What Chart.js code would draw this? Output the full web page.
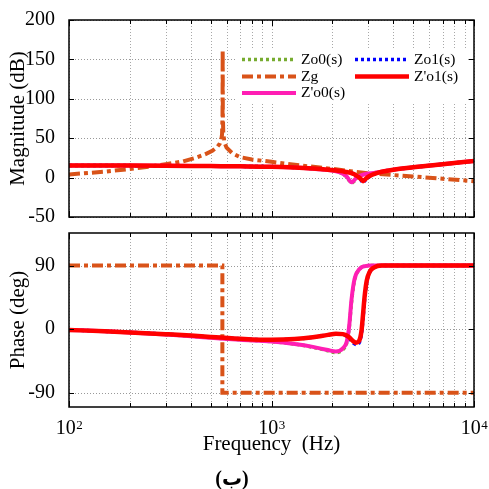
<!DOCTYPE html>
<html>
<head>
<meta charset="utf-8">
<script src="https://cdn.jsdelivr.net/npm/chart.js@4.4.1/dist/chart.umd.min.js"></script>
<style>
  html, body { margin: 0; padding: 0; background: #fff; }
  #wrap { position: relative; width: 489px; height: 489px; overflow: hidden; background: #fff; }
  #mag { position: absolute; left: 0; top: 0; }
  #phase { position: absolute; left: 0; top: 230px; }
</style>
</head>
<body>
<div id="wrap">
  <canvas id="mag" width="489" height="230"></canvas>
  <canvas id="phase" width="489" height="259"></canvas>
</div>
<script>
// frequencies (Hz) shared by the four output impedance curves
var freq = [100, 150, 200, 300, 400, 500, 700, 1000, 1300, 1600, 1900, 2080, 2250, 2350, 2420,
            2480, 2550, 2610, 2700, 2780, 2830, 2880, 2950, 3050, 3200, 3500, 4000, 5000, 7000, 10000];

// magnitude (dB)
var magZo0  = [15.5, 15.3, 15.2, 15.0, 14.8, 14.6, 14.3, 13.8, 12.8, 11.3, 9.5, 7.8, 4.6, 0.8, -4.0,
               -7.0, -5.0, -1.5, 1.2, 2.8, 3.7, 4.2, 4.7, 5.2, 6.0, 7.5, 10.0, 13.0, 17.0, 21.0];
var magZo1  = [15.5, 15.3, 15.2, 15.0, 14.8, 14.6, 14.3, 13.8, 12.8, 11.5, 10.0, 9.0, 8.0, 7.0, 6.5,
               5.8, 4.5, 3.0, 0.0, -4.0, -7.0, -4.5, -1.5, 1.5, 4.3, 7.4, 10.0, 13.0, 17.0, 21.0];
var magZpo0 = [15.5, 15.3, 15.2, 15.0, 14.8, 14.6, 14.3, 13.8, 12.8, 11.3, 9.5, 8.0, 5.0, 1.5, -3.0,
               -6.0, -4.0, -1.0, 1.5, 3.0, 3.8, 4.3, 4.8, 5.3, 6.0, 7.5, 10.0, 13.0, 17.0, 21.0];
var magZpo1 = [15.5, 15.3, 15.2, 15.0, 14.8, 14.6, 14.3, 13.8, 12.8, 11.5, 10.0, 9.0, 8.0, 7.0, 6.5,
               5.8, 4.5, 3.0, 0.5, -2.5, -4.5, -3.0, -0.5, 2.0, 4.5, 7.5, 10.0, 13.0, 17.0, 21.0];

// phase (deg)
var phZo0  = [-1, -3, -4.5, -7.5, -10, -12, -15, -17.5, -21, -25.5, -30.5, -33, -29, -20, 2,
              36, 64, 76, 83.5, 87.5, 88.5, 89, 89.5, 90, 90, 90, 90, 90, 90, 90];
var phZo1  = [-1, -3, -4.5, -7, -9, -11, -13.5, -15, -14, -11.5, -8, -6.5, -7.5, -10, -13,
              -16.5, -20, -21.5, -20, -7, 14, 40, 65, 80, 87, 90, 90, 90, 90, 90];
var phZpo0 = [-1, -3, -4.5, -7.5, -10, -12, -15, -17.5, -21, -25, -29.5, -31.5, -27, -18, 5,
              40, 66, 77, 84, 87.5, 88.5, 89, 89.5, 90, 90, 90, 90, 90, 90, 90];
var phZpo1 = [-1, -3, -4.5, -7, -9, -11, -13.5, -15, -14, -11.5, -8, -6.5, -7, -9, -11.5,
              -14.5, -17.5, -19, -17, -3, 20, 45, 68, 81, 87, 90, 90, 90, 90, 90];

// grid impedance Zg
var freqZg = [100, 150, 200, 250, 300, 365, 420, 470, 510, 540, 555, 565, 570, 573, 574,
              575, 578, 585, 600, 640, 700, 800, 1000, 1500, 2000, 3000, 5000, 7000, 10000];
var magZg  = [4, 7.5, 11, 14, 17, 20.5, 25, 29.5, 34, 39, 43, 48, 55, 80, 162,
              80, 56, 45, 38, 31, 26, 23, 20, 14.5, 11, 5.5, 1.5, -1.5, -4.5];
var freqZgPh = [100, 572, 572, 10000];
var phZg     = [90, 90, -90, -90];

var magTicks = [-50, 0, 50, 100, 150, 200];
var phaseTicks = [-90, 0, 90];
var decades = [100, 1000, 10000];

var FONT = "'Liberation Serif', 'Times New Roman', serif";
Chart.defaults.font.family = FONT;
Chart.defaults.color = '#000';

function pts(xs, ys) {
  return xs.map(function(x, i) { return {x: x, y: ys[i]}; });
}

var styles = {
  "Zo0(s)":  {color: '#77ac30', width: 3.5, dash: [3, 3]},
  "Zo1(s)":  {color: '#0000ff', width: 3.5, dash: [3, 3]},
  "Z'o0(s)": {color: '#ff1eb4', width: 4, dash: []},
  "Z'o1(s)": {color: '#ff0000', width: 4.5, dash: []},
  "Zg":      {color: '#d95319', width: 4, dash: [11, 4, 4, 4]}
};

function ds(label, data, smooth) {
  var s = styles[label];
  return {
    label: label, data: data, borderColor: s.color, backgroundColor: s.color,
    borderWidth: s.width, borderDash: s.dash, pointRadius: 0, fill: false,
    cubicInterpolationMode: smooth ? 'monotone' : 'default', tension: 0
  };
}

// log tick positions for the grid: 1..9 x each decade
var xTicks = [];
decades.forEach(function(d) {
  if (d === decades[decades.length - 1]) { xTicks.push(d); return; }
  for (var k = 1; k < 10; k++) xTicks.push(d * k);
});

function xScale(showTitle) {
  return {
    type: 'logarithmic', min: 100, max: 10000,
    afterBuildTicks: function(s) { s.ticks = xTicks.map(function(v) { return {value: v, major: decades.indexOf(v) >= 0}; }); },
    afterFit: function(s) { s.height = showTitle ? 82 : 13; s.paddingLeft = 0; s.paddingRight = 0; },
    ticks: {display: false, autoSkip: false},
    grid: {display: false},
    border: {display: false},
    title: showTitle ? {display: true, text: 'Frequency  (Hz)', font: {family: FONT, size: 21}, padding: {top: 0, bottom: 32}}
                     : {display: false}
  };
}

function yScale(min, max, ticks, title) {
  return {
    type: 'linear', min: min, max: max,
    afterBuildTicks: function(s) { s.ticks = ticks.map(function(v) { return {value: v}; }); },
    afterFit: function(s) { s.width = 69; s.paddingTop = 0; s.paddingBottom = 0; },
    ticks: {font: {family: FONT, size: 20}, padding: 6, color: '#000'},
    grid: {display: false},
    border: {display: false},
    title: {display: true, text: title, font: {family: FONT, size: 21}, padding: {top: 6, bottom: 0}}
  };
}

// dotted grid behind the curves
var gridPlugin = {
  id: 'dotGrid',
  beforeDatasetsDraw: function(chart) {
    var c = chart.ctx, a = chart.chartArea;
    c.save();
    c.lineWidth = 1;
    c.setLineDash([1, 2]);
    c.strokeStyle = '#a8a8a8';
    c.beginPath();
    chart.scales.x.ticks.forEach(function(t) {
      var x = Math.round(chart.scales.x.getPixelForValue(t.value)) + 0.5;
      c.moveTo(x, a.top); c.lineTo(x, a.bottom);
    });
    c.stroke();
    c.strokeStyle = '#999';
    c.beginPath();
    chart.scales.y.ticks.forEach(function(t) {
      var y = Math.round(chart.scales.y.getPixelForValue(t.value)) + 0.5;
      c.moveTo(a.left, y); c.lineTo(a.right, y);
    });
    c.stroke();
    c.restore();
  }
};

// frame + inward tick marks
var framePlugin = {
  id: 'frame',
  afterDraw: function(chart) {
    var c = chart.ctx, a = chart.chartArea;
    c.save();
    c.strokeStyle = '#000';
    c.lineWidth = 1;
    c.beginPath();
    chart.scales.x.ticks.forEach(function(t) {
      var x = Math.round(chart.scales.x.getPixelForValue(t.value)) + 0.5;
      var len = t.major ? 6 : 4;
      c.moveTo(x, a.top); c.lineTo(x, a.top + len);
      c.moveTo(x, a.bottom); c.lineTo(x, a.bottom - len);
    });
    chart.scales.y.ticks.forEach(function(t) {
      var y = Math.round(chart.scales.y.getPixelForValue(t.value)) + 0.5;
      c.moveTo(a.left, y); c.lineTo(a.left + 5, y);
      c.moveTo(a.right, y); c.lineTo(a.right - 5, y);
    });
    c.stroke();
    c.lineWidth = 1.5;
    c.strokeRect(a.left, a.top, a.right - a.left, a.bottom - a.top);
    c.restore();
  }
};

var legendRows = [
  {label: "Zo0(s)",  x: 242, y: 59.5},
  {label: "Zg",      x: 242, y: 76.5},
  {label: "Z'o0(s)", x: 242, y: 93},
  {label: "Zo1(s)",  x: 355, y: 59.5},
  {label: "Z'o1(s)", x: 355, y: 76.5}
];

var legendPlugin = {
  id: 'boxLegend',
  afterDraw: function(chart) {
    var c = chart.ctx;
    c.save();
    c.fillStyle = '#fff';
    c.fillRect(237, 50, 230, 54);
    legendRows.forEach(function(r) {
      var s = styles[r.label];
      c.beginPath();
      c.setLineDash(s.dash);
      c.lineWidth = s.width;
      c.strokeStyle = s.color;
      c.moveTo(r.x, r.y); c.lineTo(r.x + 54, r.y);
      c.stroke();
      c.setLineDash([]);
      c.fillStyle = '#000';
      c.font = '15.5px ' + FONT;
      c.textBaseline = 'middle';
      c.textAlign = 'left';
      c.fillText(r.label, r.x + 59, r.y);
    });
    c.restore();
  }
};

var labelPlugin = {
  id: 'decadeLabels',
  afterDraw: function(chart) {
    var c = chart.ctx, sx = chart.scales.x;
    c.save();
    c.fillStyle = '#000';
    c.textBaseline = 'alphabetic';
    c.textAlign = 'left';
    decades.forEach(function(d) {
      var exp = String(Math.round(Math.log10(d)));
      c.font = '20px ' + FONT;
      var w1 = c.measureText('10').width;
      c.font = '13px ' + FONT;
      var w2 = c.measureText(exp).width;
      var x0 = sx.getPixelForValue(d) - (w1 + w2) / 2;
      c.font = '20px ' + FONT;
      c.fillText('10', x0, 204);
      c.font = '13px ' + FONT;
      c.fillText(exp, x0 + w1 + 0.5, 198.5);
    });
    c.font = 'bold 20px ' + FONT + ", 'DejaVu Sans'";
    c.textAlign = 'center';
    c.fillText('(ب)', 232, 255);
    c.restore();
  }
};

var common = {
  responsive: false, animation: false, devicePixelRatio: 1,
  plugins: {legend: {display: false}, tooltip: {enabled: false}}
};

new Chart(document.getElementById('mag'), {
  type: 'line',
  data: {datasets: [
    ds("Z'o1(s)", pts(freq, magZpo1), true),
    ds("Z'o0(s)", pts(freq, magZpo0), true),
    ds("Zo1(s)", pts(freq, magZo1), true),
    ds("Zo0(s)", pts(freq, magZo0), true),
    ds("Zg", pts(freqZg, magZg), false)
  ]},
  options: Object.assign({}, common, {
    layout: {padding: {top: 20, right: 15, bottom: 0, left: 0}},
    scales: {x: xScale(false), y: yScale(-50, 200, magTicks, 'Magnitude (dB)')}
  }),
  plugins: [gridPlugin, framePlugin, legendPlugin]
});

new Chart(document.getElementById('phase'), {
  type: 'line',
  data: {datasets: [
    ds("Z'o1(s)", pts(freq, phZpo1), true),
    ds("Z'o0(s)", pts(freq, phZpo0), true),
    ds("Zo1(s)", pts(freq, phZo1), true),
    ds("Zo0(s)", pts(freq, phZo0), true),
    ds("Zg", pts(freqZgPh, phZg), false)
  ]},
  options: Object.assign({}, common, {
    layout: {padding: {top: 3, right: 15, bottom: 0, left: 0}},
    scales: {x: xScale(true), y: yScale(-110, 136, phaseTicks, 'Phase (deg)')}
  }),
  plugins: [gridPlugin, framePlugin, labelPlugin]
});
</script>
</body>
</html>
